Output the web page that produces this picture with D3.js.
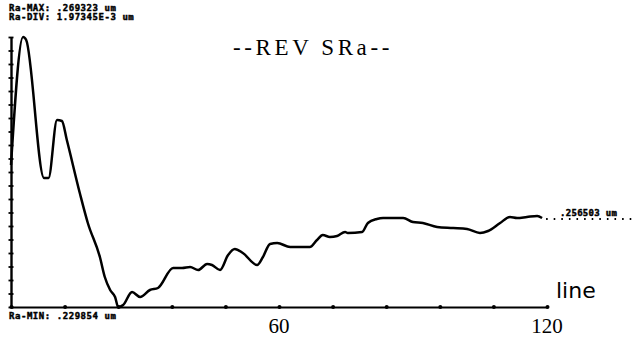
<!DOCTYPE html>
<html><head><meta charset="utf-8">
<script src="https://cdn.jsdelivr.net/npm/d3@7"></script>
<style>body{margin:0;background:#fff}svg{display:block}</style>
</head><body>
<svg id="c" width="639" height="338"></svg>
<script>
const lineNo = [0,2.7,3.4,7.4,8.4,10.3,11.4,12.5,15.4,17.2,19.9,21.0,22.2,23.3,24.0,25.1,27.1,28.9,31.1,32.9,36.3,38.3,40.1,41.9,43.9,45.0,46.8,48.6,50.1,51.9,55.1,56.4,58.0,59.6,62.5,64.7,66.9,68.5,69.8,71.4,73.0,74.8,75.4,78.6,79.9,81.9,83.3,87.8,90.0,92.2,95.4,99.0,102.1,105.0,106.8,109.5,111.7,113.3,115.5,117.8,118.9];
const raValues = [.250612,.269323,.268884,.248711,.248711,.257190,.257044,.254266,.246519,.242133,.237163,.234239,.232339,.231316,.229854,.230146,.232047,.231316,.232339,.232631,.235555,.235555,.235701,.235263,.236140,.235994,.235263,.237455,.238332,.237748,.235994,.237163,.239063,.239210,.238625,.238625,.238625,.239648,.240379,.240087,.240233,.240818,.240671,.240818,.242133,.242718,.242864,.242864,.242279,.242133,.241548,.241402,.241256,.240671,.240964,.242133,.243010,.242864,.243010,.243156,.242864];
const raMax = .269323, raMin = .229854, raDiv = 1.97345e-3;
const xTicks = [0,12,24,36,48,60,72,84,96,108,120];
const xTickLabels = [60,120];
const headerTexts = ["Ra-MAX: .269323 um","Ra-DIV: 1.97345E-3 um"];
const minText = "Ra-MIN: .229854 um";
const endText = ".256503 um";
const title = "--REV SRa--";
const xLabel = "line";

const svg = d3.select("#c");
const x = d3.scaleLinear().domain([0,120]).range([11,547]);
const y = d3.scaleLinear().domain([raMin,raMax]).range([307,37]);
const yTicks = d3.range(21).map(i => raMin + i*raDiv);

// axes
const gx = svg.append("g").attr("transform","translate(0,307)")
  .call(d3.axisBottom(x).tickValues(xTicks).tickSize(0).tickFormat(""));
gx.select(".domain").attr("stroke","#000").attr("stroke-width",2);
gx.selectAll(".tick").append("circle").attr("r",2).attr("fill","#000");
gx.selectAll(".tick line").remove();

const gy = svg.append("g").attr("transform","translate(11,0)")
  .call(d3.axisLeft(y).tickValues(yTicks).tickSize(0).tickFormat(""));
gy.select(".domain").attr("stroke","#000").attr("stroke-width",2.4);
gy.selectAll(".tick line").attr("x1",-2.5).attr("x2",2.5).attr("stroke","#000").attr("stroke-width",1.8);

// x labels
svg.selectAll("text.xl").data(xTickLabels).join("text")
  .attr("x", d => x(d)).attr("y", 333).attr("text-anchor","middle")
  .attr("font-family","Liberation Serif, serif").attr("font-size",21).text(d => d);

// curve
const pts = lineNo.map((d,i)=>[d,raValues[i]]);
svg.append("path").datum(pts)
  .attr("fill","none").attr("stroke","#000").attr("stroke-width",2.5).attr("stroke-linejoin","round")
  .attr("d", d3.line().x(d=>x(d[0])).y(d=>y(d[1])).curve(d3.curveMonotoneX));

// dotted continuation
const last = raValues[raValues.length-1];
svg.append("line").attr("x1", x(lineNo[lineNo.length-1])+4).attr("x2",633)
  .attr("y1", y(last)+1).attr("y2", y(last)+1)
  .attr("stroke","#000").attr("stroke-width",2).attr("stroke-dasharray","1.6,6");

// texts
const mono = "DejaVu Sans Mono, monospace";
function small(sel){
  return sel.attr("font-family",mono).attr("font-weight","bold").attr("font-size",9)
    .attr("letter-spacing",0.55).attr("stroke","#000").attr("stroke-width",0.45);
}
small(svg.selectAll("text.h").data(headerTexts).join("text")
  .attr("x",9).attr("y",(d,i)=>11+i*8.5).text(d=>d));
small(svg.append("text").attr("x",9).attr("y",318.5).text(minText));
small(svg.append("text").attr("x",560).attr("y",y(last)-2).text(endText)).attr("letter-spacing",0.3);
svg.append("text").attr("x",313).attr("y",55).attr("text-anchor","middle")
  .attr("font-family","Liberation Serif, serif").attr("font-size",23)
  .attr("letter-spacing",3.6).text(title);
svg.append("text").attr("x",556).attr("y",298)
  .attr("font-family","DejaVu Sans, sans-serif").attr("font-size",22).text(xLabel);
</script>
</body></html>
